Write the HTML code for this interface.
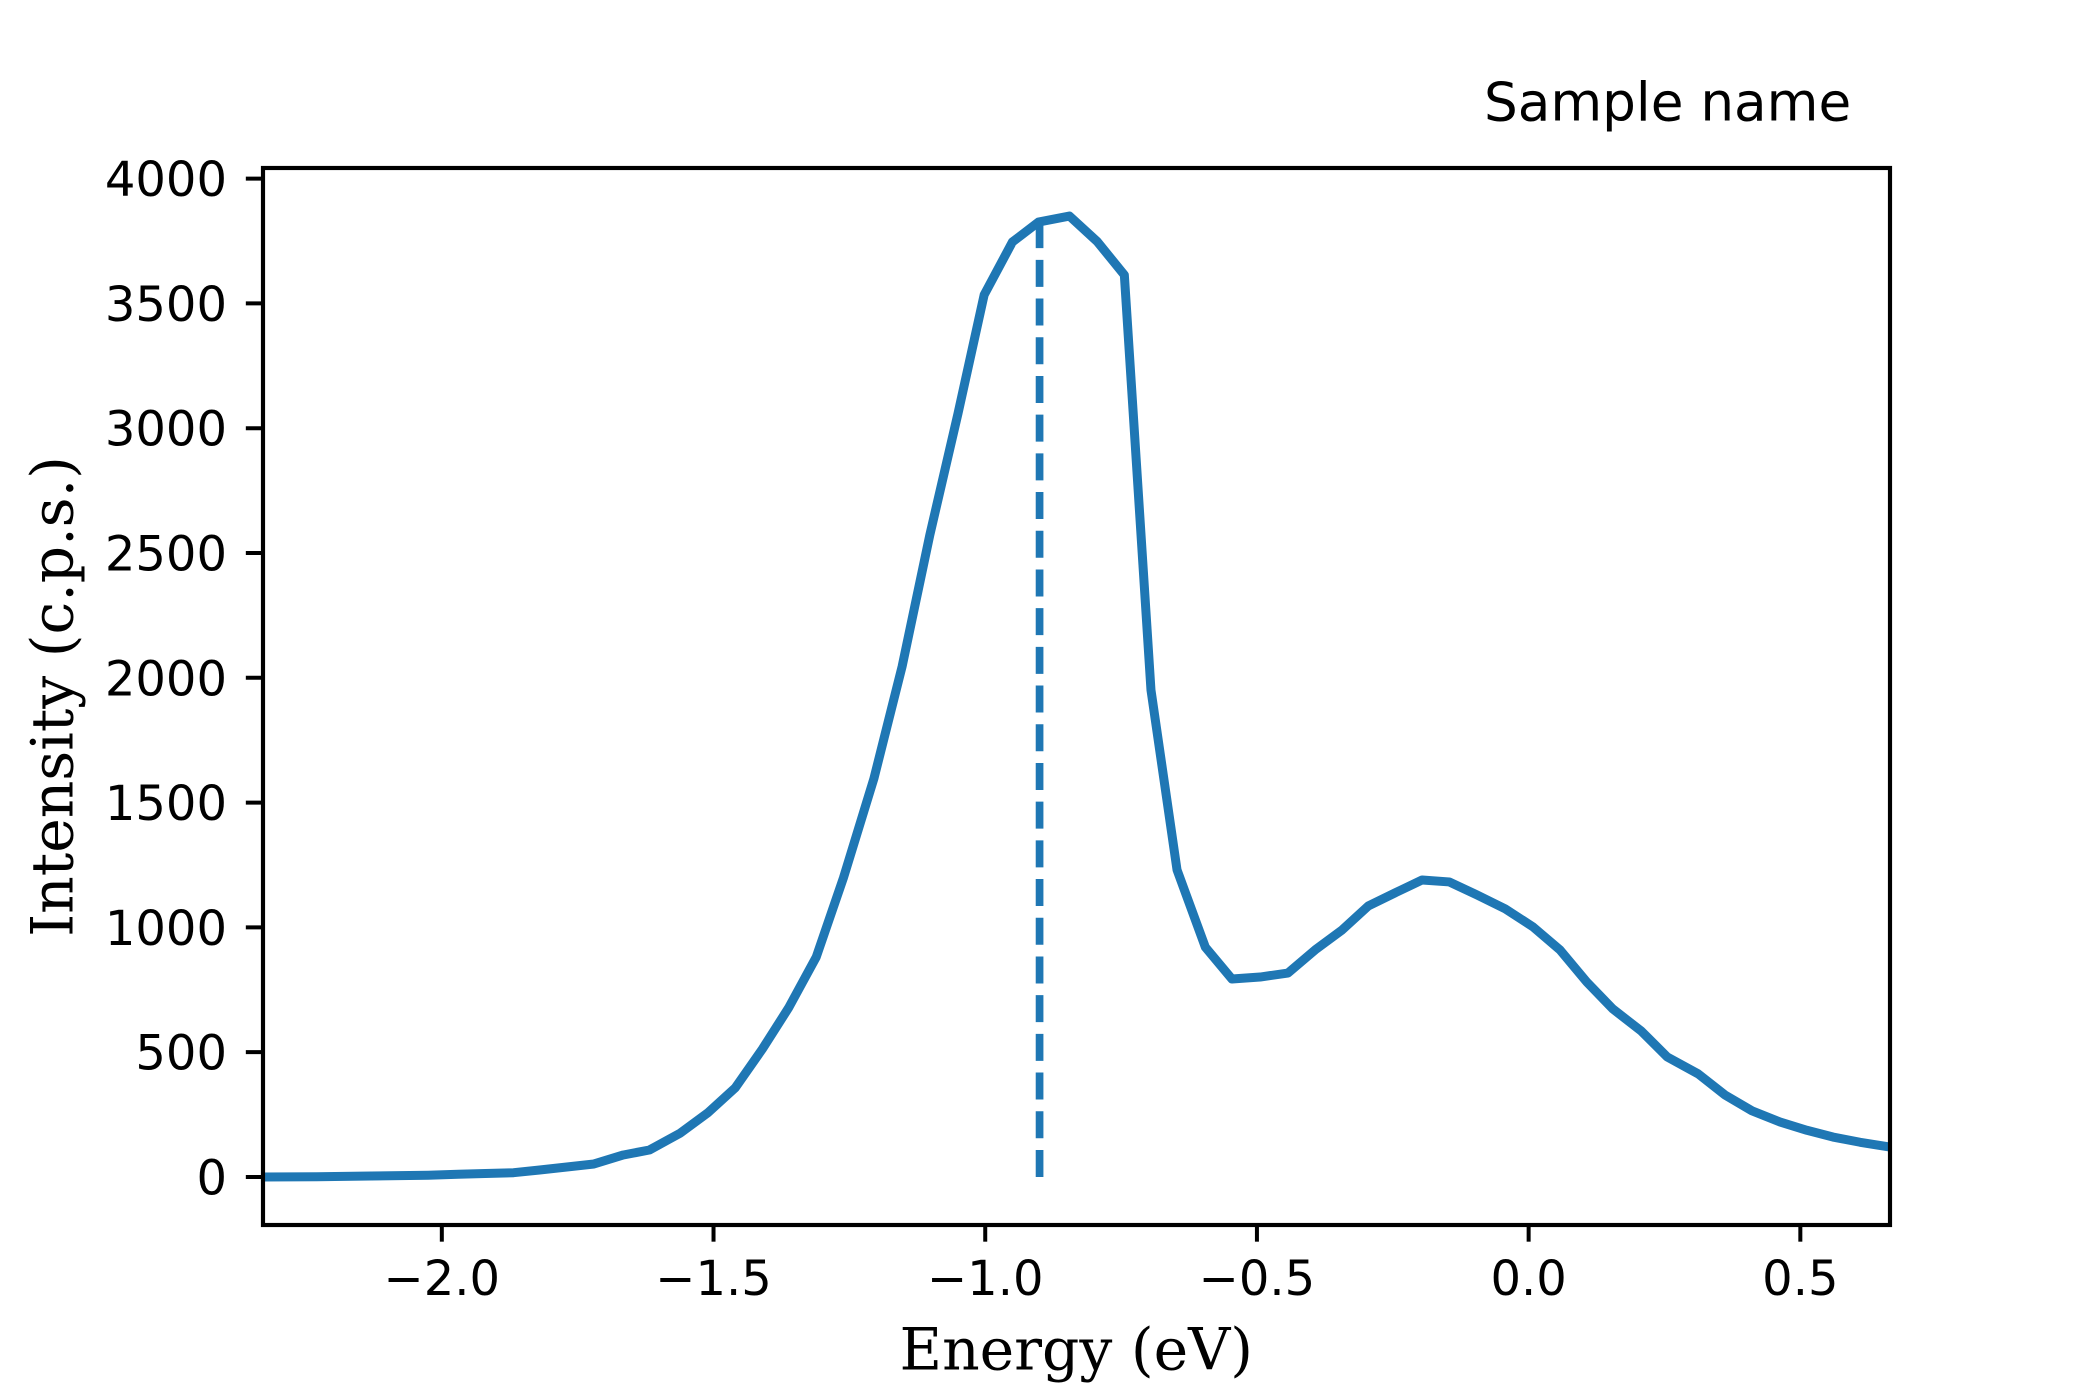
<!DOCTYPE html>
<html lang="en">
<head>
<meta charset="utf-8">
<title>Sample name - Intensity vs Energy</title>
<style>
html,body{margin:0;padding:0;background:#fff;width:2100px;height:1400px;overflow:hidden}
svg{display:block}
.tick-text{font-family:"DejaVu Sans","Liberation Sans",sans-serif;font-size:48px;fill:#000}
.axis-title{font-family:"DejaVu Serif","Liberation Serif",serif;font-size:58.33px;fill:#000}
</style>
</head>
<body>
<svg id="chart" xmlns="http://www.w3.org/2000/svg" width="2100" height="1400" viewBox="0 0 2100 1400">
  <rect x="0" y="0" width="2100" height="1400" fill="#ffffff"/>
  <defs>
    <clipPath id="plot-clip"><rect x="262.5" y="168" width="1627.5" height="1057"/></clipPath>
  </defs>
  <g id="marks" clip-path="url(#plot-clip)"></g>
  <rect x="263" y="168" width="1627" height="1057" fill="none" stroke="#000" stroke-width="4.17"/>
  <g id="x-ticks"></g>
  <g id="y-ticks"></g>
  <text x="1484" y="120.5" font-family="'DejaVu Sans','Liberation Sans',sans-serif" font-size="53.2" fill="#000">Sample name</text>
  <text class="axis-title" x="1076.25" y="1369.5" text-anchor="middle">Energy (eV)</text>
  <text class="axis-title" x="72.7" y="696.5" text-anchor="middle" transform="rotate(-90 72.7 696.5)">Intensity (c.p.s.)</text>
</svg>
<script>
const energy = [-2.33,-2.23,-2.13,-2.025,-1.97,-1.92,-1.868,-1.82,-1.77,-1.72,-1.666,-1.618,-1.561,-1.511,-1.46,-1.41,-1.362,-1.311,-1.261,-1.205,-1.153,-1.102,-1.05,-1.002,-0.95,-0.902,-0.845,-0.794,-0.744,-0.695,-0.647,-0.595,-0.546,-0.494,-0.443,-0.391,-0.343,-0.295,-0.246,-0.196,-0.146,-0.095,-0.043,0.008,0.058,0.107,0.155,0.207,0.255,0.312,0.361,0.411,0.463,0.512,0.56,0.61,0.67];
const intensity = [0,1,4,7,11,14,17,28,40,52,88,108,176,256,357,513,677,881,1198,1595,2045,2572,3060,3534,3746,3826,3850,3748,3614,1951,1230,921,793,801,817,913,990,1086,1138,1190,1182,1130,1074,1002,909,781,673,585,481,413,329,265,220,187,160,139,118];
const peakEnergy = [-0.9];
const peakIntensity = [3822];
const xTickValues = [-2.0,-1.5,-1.0,-0.5,0.0,0.5];
const xTickLabels = ["\u22122.0","\u22121.5","\u22121.0","\u22120.5","0.0","0.5"];
const yTickValues = [0,500,1000,1500,2000,2500,3000,3500,4000];
const yTickLabels = ["0","500","1000","1500","2000","2500","3000","3500","4000"];

const xLimits = [-2.33, 0.665];
const yLimits = [-192.5, 4042.5];
const plotLeft = 262.5, plotRight = 1890, plotTop = 168, plotBottom = 1225;
const SVG_NS = "http://www.w3.org/2000/svg";

function xScale(v){ return plotLeft + (v - xLimits[0]) / (xLimits[1] - xLimits[0]) * (plotRight - plotLeft); }
function yScale(v){ return plotBottom - (v - yLimits[0]) / (yLimits[1] - yLimits[0]) * (plotBottom - plotTop); }

const marks = document.getElementById("marks");
const xTickGroup = document.getElementById("x-ticks");
const yTickGroup = document.getElementById("y-ticks");

const peakLine = document.createElementNS(SVG_NS, "line");


peakLine.setAttribute("x1", xScale(peakEnergy[0]));
peakLine.setAttribute("x2", xScale(peakEnergy[0]));
peakLine.setAttribute("y1", yScale(0));
peakLine.setAttribute("y2", yScale(peakIntensity[0]));
peakLine.setAttribute("stroke", "#1f77b4");
peakLine.setAttribute("stroke-width", "7.7");
peakLine.setAttribute("stroke-dasharray", "27 11.7");
marks.appendChild(peakLine);

const curve = document.createElementNS(SVG_NS, "polyline");


curve.setAttribute("points", energy.map((e, i) => xScale(e).toFixed(2) + "," + yScale(intensity[i]).toFixed(2)).join(" "));
curve.setAttribute("fill", "none");
curve.setAttribute("stroke", "#1f77b4");
curve.setAttribute("stroke-width", "9");
curve.setAttribute("stroke-linejoin", "round");
marks.appendChild(curve);

xTickValues.forEach((v, i) => {
  const px = xScale(v);
  const mark = document.createElementNS(SVG_NS, "line");
  
  
  mark.setAttribute("x1", px);
  mark.setAttribute("x2", px);
  mark.setAttribute("y1", plotBottom);
  mark.setAttribute("y2", plotBottom + 16.67);
  mark.setAttribute("stroke", "#000");
  mark.setAttribute("stroke-width", "4");
  xTickGroup.appendChild(mark);
  const label = document.createElementNS(SVG_NS, "text");
  
  
  label.setAttribute("class", "tick-text");
  label.setAttribute("x", px);
  label.setAttribute("y", 1295);
  label.setAttribute("text-anchor", "middle");
  label.textContent = xTickLabels[i];
  xTickGroup.appendChild(label);
});

yTickValues.forEach((v, i) => {
  const py = yScale(v);
  const mark = document.createElementNS(SVG_NS, "line");
  
  
  mark.setAttribute("x1", plotLeft - 16.67);
  mark.setAttribute("x2", plotLeft);
  mark.setAttribute("y1", py);
  mark.setAttribute("y2", py);
  mark.setAttribute("stroke", "#000");
  mark.setAttribute("stroke-width", "4");
  yTickGroup.appendChild(mark);
  const label = document.createElementNS(SVG_NS, "text");
  
  
  label.setAttribute("class", "tick-text");
  label.setAttribute("x", 227);
  label.setAttribute("y", py + 17.5);
  label.setAttribute("text-anchor", "end");
  label.textContent = yTickLabels[i];
  yTickGroup.appendChild(label);
});
</script>
</body>
</html>
